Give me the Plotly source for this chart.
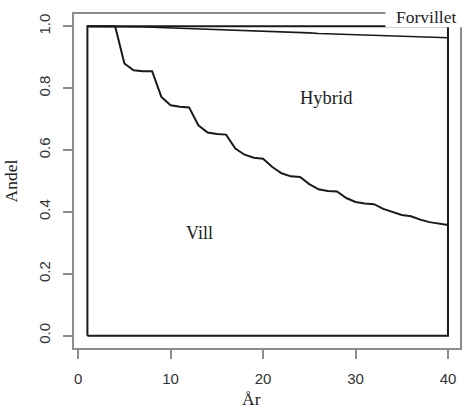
import plotly.graph_objects as go

years = list(range(1, 41))
vill = [1.0, 1.0, 1.0, 1.0, 0.880, 0.858, 0.855, 0.855, 0.772, 0.745,
        0.740, 0.738, 0.680, 0.657, 0.652, 0.650, 0.605, 0.585, 0.575, 0.572,
        0.545, 0.525, 0.515, 0.513, 0.490, 0.473, 0.468, 0.466, 0.445, 0.432,
        0.427, 0.425, 0.410, 0.400, 0.390, 0.386, 0.375, 0.367, 0.362, 0.358]
hybrid_top = [1.0, 1.0, 1.0, 1.0, 0.999, 0.998, 0.998, 0.997, 0.996, 0.995,
              0.994, 0.994, 0.993, 0.991, 0.990, 0.990, 0.989, 0.987, 0.986, 0.985,
              0.984, 0.982, 0.981, 0.980, 0.979, 0.977, 0.976, 0.975, 0.974, 0.973,
              0.972, 0.971, 0.970, 0.969, 0.968, 0.967, 0.966, 0.965, 0.964, 0.963]
lower = [0.0] * len(years)
upper = [1.0] * len(years)

x_ticks = [0, 10, 20, 30, 40]
y_ticks = [0.0, 0.2, 0.4, 0.6, 0.8, 1.0]
y_ticklabels = ["0.0", "0.2", "0.4", "0.6", "0.8", "1.0"]

labels = [("Hybrid", 26.9, 0.767, 18.5), ("Vill", 13.1, 0.331, 18), ("Forvillet", 37.65, 1.031, 17.5)]

LINE = "#1a1a1a"
FRAME = "#8c8c8c"

fig = go.Figure()
# outer boundary polygon (0 and 1 lines with vertical ends)
bx = years + years[::-1] + [years[0]]
by = lower + upper[::-1] + [lower[0]]
fig.add_trace(go.Scatter(x=bx, y=by, mode="lines", line=dict(color=LINE, width=2), hoverinfo="skip"))
fig.add_trace(go.Scatter(x=years, y=vill, mode="lines", line=dict(color=LINE, width=2), hoverinfo="skip"))
fig.add_trace(go.Scatter(x=years, y=hybrid_top, mode="lines", line=dict(color=LINE, width=1.6), hoverinfo="skip"))

# white box behind the "Forvillet" label
fig.add_shape(type="rect", xref="paper", yref="paper", x0=0.807, x1=1.05, y0=0.96, y1=1.1,
              fillcolor="white", line=dict(width=0), layer="above")

serif = "Liberation Serif"
for txt, xx, yy, fs in labels:
    fig.add_annotation(x=xx, y=yy, text=txt, showarrow=False, xanchor="center", yanchor="middle",
                       font=dict(family=serif, size=fs, color="#222"))

fig.add_annotation(xref="paper", yref="paper", x=0.459, y=-0.19, text="År", showarrow=False,
                   xanchor="center", yanchor="bottom",
                   font=dict(family=serif, size=17.5, color="#222"))
fig.add_annotation(xref="paper", yref="paper", x=-0.162, y=0.5, text="Andel", showarrow=False,
                   xanchor="center", yanchor="middle",
                   textangle=-90, font=dict(family=serif, size=17.5, color="#222"))

axis_common = dict(showgrid=False, zeroline=False, showline=True, linecolor=FRAME, linewidth=1.5,
                   mirror=True, ticks="outside", ticklen=9, tickcolor=FRAME, tickwidth=1.5,
                   tickfont=dict(family="Liberation Sans", size=15, color="#333"))

fig.update_layout(
    width=464, height=412,
    margin=dict(l=74, r=2, t=14, b=64),
    paper_bgcolor="white", plot_bgcolor="white",
    showlegend=False,
    xaxis=dict(range=[-0.45, 41.3], tickvals=x_ticks, ticktext=[str(v) for v in x_ticks],
               ticklabelstandoff=7, **axis_common),
    yaxis=dict(range=[-0.04, 1.04], tickvals=y_ticks, ticktext=y_ticklabels, tickangle=-90,
               ticklabelstandoff=7, **axis_common),
)

fig.write_html("out.html", config={"displayModeBar": False},
               post_script="document.body.style.margin='0px';document.body.style.overflow='hidden';")
